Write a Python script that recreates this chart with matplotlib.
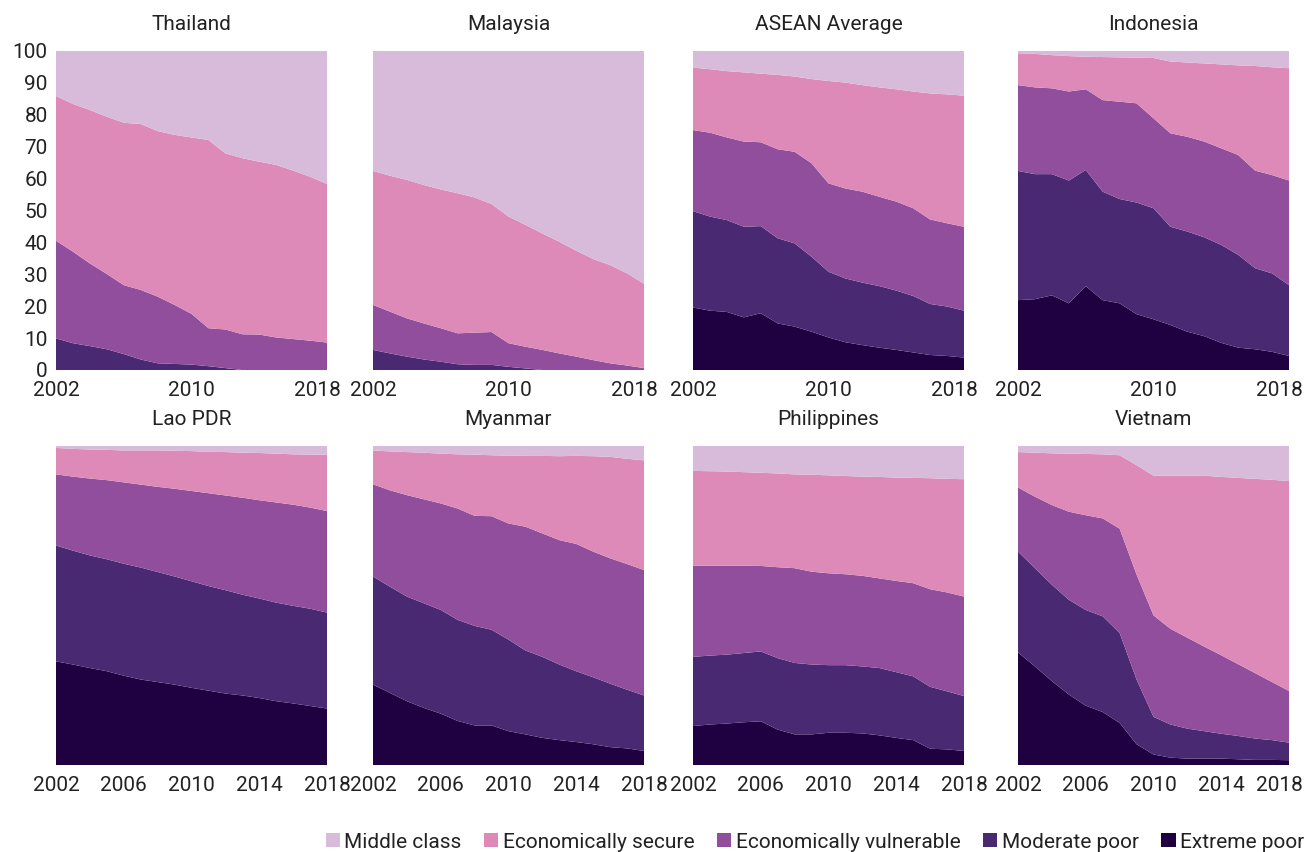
"""ASEAN economic class shares 2002-2018, small multiples of stacked areas."""
import matplotlib
matplotlib.use("Agg")
import matplotlib.pyplot as plt
from matplotlib.patches import Patch
from matplotlib.transforms import ScaledTranslation

plt.rcParams["font.family"] = ["Roboto", "DejaVu Sans"]

years = list(range(2002, 2019))
classes = ["Extreme poor", "Moderate poor", "Economically vulnerable",
           "Economically secure", "Middle class"]
colors = ["#1f0040", "#4a2973", "#914e9c", "#dd8ab8", "#d8bbdb"]

# shares (%) per class, bottom to top
thailand = {
    "Extreme poor": [0] * 17,
    "Moderate poor": [9.9, 8.4, 7.5, 6.5, 5.0, 3.3, 2.1, 1.9, 1.7, 1.2, 0.6, 0, 0, 0, 0, 0, 0],
    "Economically vulnerable": [30.6, 28.7, 25.9, 23.6, 21.6, 21.8, 20.9, 18.5, 15.9, 11.9, 12.1, 11.2, 11.1, 10.2, 9.7, 9.2, 8.6],
    "Economically secure": [45.4, 46.3, 48.1, 49.3, 50.9, 52.0, 51.9, 53.3, 55.3, 59.0, 55.2, 55.2, 54.2, 54.1, 52.8, 51.4, 49.7],
    "Middle class": [14.1, 16.6, 18.5, 20.6, 22.5, 22.9, 25.1, 26.3, 27.1, 27.9, 32.1, 33.6, 34.7, 35.7, 37.5, 39.4, 41.7],
}
malaysia = {
    "Extreme poor": [0] * 17,
    "Moderate poor": [6.3, 5.2, 4.2, 3.3, 2.6, 1.8, 1.6, 1.6, 1.0, 0.5, 0, 0, 0, 0, 0, 0, 0],
    "Economically vulnerable": [14.1, 13.1, 12.0, 11.3, 10.5, 9.7, 10.1, 10.3, 7.4, 6.8, 6.3, 5.2, 4.2, 3.1, 2.1, 1.4, 0.6],
    "Economically secure": [42.0, 42.6, 43.4, 43.4, 43.5, 43.9, 42.4, 40.1, 39.7, 38.2, 36.5, 35.0, 33.2, 31.7, 30.8, 28.9, 26.4],
    "Middle class": [37.6, 39.1, 40.4, 42.0, 43.4, 44.6, 45.9, 48.0, 51.9, 54.5, 57.2, 59.8, 62.6, 65.2, 67.1, 69.7, 73.0],
}
asean = {
    "Extreme poor": [19.6, 18.6, 18.2, 16.5, 17.8, 14.6, 13.6, 12.0, 10.2, 8.7, 7.8, 7.0, 6.3, 5.5, 4.7, 4.4, 3.9],
    "Moderate poor": [30.2, 29.5, 28.8, 28.4, 27.3, 26.7, 26.1, 23.5, 20.6, 20.0, 19.6, 19.3, 18.6, 17.7, 16.0, 15.5, 14.7],
    "Economically vulnerable": [25.4, 26.3, 25.9, 26.7, 26.3, 27.9, 28.7, 29.3, 27.7, 28.2, 28.5, 28.0, 27.9, 27.5, 26.5, 26.1, 26.3],
    "Economically secure": [19.6, 19.9, 20.8, 21.7, 21.5, 23.3, 23.6, 26.4, 32.1, 33.2, 33.4, 34.3, 35.2, 36.6, 39.5, 40.4, 41.1],
    "Middle class": [5.2, 5.7, 6.3, 6.7, 7.1, 7.5, 8.0, 8.8, 9.4, 9.9, 10.7, 11.4, 12.0, 12.7, 13.3, 13.6, 14.0],
}
indonesia = {
    "Extreme poor": [21.9, 22.2, 23.4, 20.9, 26.3, 21.9, 20.9, 17.5, 15.9, 14.1, 12.0, 10.6, 8.5, 7.0, 6.5, 5.7, 4.4],
    "Moderate poor": [40.5, 39.2, 38.0, 38.5, 36.4, 34.0, 32.7, 35.0, 34.8, 30.8, 31.4, 31.0, 30.7, 29.1, 25.4, 24.6, 22.2],
    "Economically vulnerable": [26.9, 27.2, 26.9, 27.9, 25.3, 28.7, 30.5, 31.1, 28.2, 29.3, 29.7, 30.0, 30.3, 31.3, 30.6, 30.8, 32.8],
    "Economically secure": [10.0, 10.5, 10.4, 11.1, 10.2, 13.5, 13.9, 14.3, 18.9, 22.5, 23.3, 24.5, 26.3, 28.1, 32.8, 33.8, 35.2],
    "Middle class": [0.7, 0.9, 1.3, 1.6, 1.8, 1.9, 2.0, 2.1, 2.2, 3.3, 3.6, 3.9, 4.2, 4.5, 4.7, 5.1, 5.4],
}
lao = {
    "Extreme poor": [32.5, 31.5, 30.4, 29.4, 28.0, 26.8, 26.0, 25.2, 24.2, 23.3, 22.4, 21.8, 21.0, 20.0, 19.3, 18.5, 17.7],
    "Moderate poor": [36.3, 35.7, 35.3, 35.1, 35.1, 35.1, 34.5, 33.9, 33.4, 32.8, 32.4, 31.6, 31.2, 30.9, 30.6, 30.5, 30.1],
    "Economically vulnerable": [22.3, 23.2, 24.1, 24.8, 25.5, 26.0, 26.7, 27.5, 28.3, 29.1, 29.7, 30.4, 30.8, 31.4, 31.7, 31.7, 31.8],
    "Economically secure": [8.3, 8.7, 9.1, 9.5, 10.0, 10.7, 11.4, 11.9, 12.5, 13.0, 13.6, 14.1, 14.8, 15.3, 15.8, 16.6, 17.7],
    "Middle class": [0.6, 0.9, 1.1, 1.2, 1.4, 1.4, 1.4, 1.5, 1.6, 1.8, 1.9, 2.1, 2.2, 2.4, 2.6, 2.7, 2.7],
}
myanmar = {
    "Extreme poor": [25.2, 22.6, 20.0, 17.9, 16.1, 13.8, 12.4, 12.4, 10.6, 9.6, 8.5, 7.8, 7.2, 6.5, 5.6, 5.2, 4.4],
    "Moderate poor": [33.9, 33.3, 32.8, 32.8, 32.5, 31.7, 31.2, 30.0, 28.7, 26.3, 25.4, 23.7, 22.2, 21.0, 19.9, 18.4, 17.4],
    "Economically vulnerable": [28.9, 30.2, 31.8, 32.6, 33.4, 34.9, 34.5, 35.6, 36.4, 38.8, 38.7, 39.0, 39.9, 39.4, 39.3, 39.4, 39.3],
    "Economically secure": [10.6, 12.2, 13.5, 14.6, 15.6, 17.0, 19.2, 19.1, 21.3, 22.2, 24.3, 26.3, 27.6, 29.9, 31.8, 33.0, 34.4],
    "Middle class": [1.4, 1.7, 1.9, 2.1, 2.4, 2.6, 2.7, 2.9, 3.0, 3.1, 3.2, 3.2, 3.1, 3.2, 3.4, 4.0, 4.5],
}
philippines = {
    "Extreme poor": [12.2, 12.7, 13.0, 13.4, 13.7, 11.1, 9.6, 9.6, 10.1, 10.1, 9.9, 9.3, 8.5, 7.8, 5.1, 4.9, 4.4],
    "Moderate poor": [21.7, 21.6, 21.6, 21.7, 21.9, 22.4, 22.4, 21.9, 21.2, 21.2, 21.0, 21.1, 20.6, 20.0, 19.4, 18.2, 17.2],
    "Economically vulnerable": [28.6, 28.2, 27.9, 27.4, 26.8, 28.5, 29.7, 29.1, 28.8, 28.5, 28.4, 28.1, 28.6, 29.2, 30.6, 31.0, 31.2],
    "Economically secure": [29.7, 29.6, 29.5, 29.3, 29.2, 29.4, 29.4, 30.4, 30.7, 30.8, 31.1, 31.8, 32.4, 33.0, 34.8, 35.6, 36.8],
    "Middle class": [7.8, 7.9, 8.0, 8.2, 8.4, 8.6, 8.9, 9.0, 9.2, 9.4, 9.6, 9.7, 9.9, 10.0, 10.1, 10.3, 10.4],
}
vietnam = {
    "Extreme poor": [35.3, 30.9, 26.3, 22.1, 18.6, 16.6, 13.2, 6.5, 3.3, 2.3, 2.0, 2.0, 2.0, 1.8, 1.6, 1.6, 1.5],
    "Moderate poor": [31.6, 30.8, 30.2, 29.7, 30.0, 30.0, 28.2, 20.3, 11.8, 10.4, 9.4, 8.6, 7.8, 7.3, 6.7, 6.2, 5.5],
    "Economically vulnerable": [20.1, 22.4, 25.0, 27.6, 29.7, 30.7, 32.7, 32.9, 31.8, 30.0, 28.5, 26.5, 24.6, 22.5, 20.5, 18.2, 16.2],
    "Economically secure": [11.1, 13.8, 16.2, 18.2, 19.2, 20.1, 23.0, 34.3, 43.8, 48.0, 50.8, 53.6, 55.9, 58.4, 60.9, 63.4, 65.8],
    "Middle class": [1.9, 2.1, 2.3, 2.4, 2.5, 2.6, 2.9, 6.0, 9.3, 9.3, 9.3, 9.3, 9.7, 10.0, 10.3, 10.6, 11.0],
}

panels = [("Thailand", thailand), ("Malaysia", malaysia),
          ("ASEAN Average", asean), ("Indonesia", indonesia),
          ("Lao PDR", lao), ("Myanmar", myanmar),
          ("Philippines", philippines), ("Vietnam", vietnam)]

W, H = 1307, 852
fig = plt.figure(figsize=(W / 100, H / 100), dpi=100)

col_x = [56, 373, 693, 1018]
col_w = 271
row_top = [51, 446]
row_h = 319
FS = 15
TXT = "#222222"

for i, (name, data) in enumerate(panels):
    r, c = divmod(i, 4)
    ax = fig.add_axes([col_x[c] / W, 1 - (row_top[r] + row_h) / H,
                       col_w / W, row_h / H])
    ax.stackplot(years, *[data[k] for k in classes], colors=colors,
                 linewidth=0)
    ax.set_xlim(2002, 2018)
    ax.set_ylim(0, 100)
    for s in ax.spines.values():
        s.set_visible(False)
    if r == 0:
        ax.set_xticks([2002, 2010, 2018])
    else:
        ax.set_xticks([2002, 2006, 2010, 2014, 2018])
    if i == 0:
        ax.set_yticks(range(0, 101, 10))
    else:
        ax.set_yticks([])
    ax.tick_params(length=0, labelsize=FS, colors=TXT)
    ax.tick_params(axis="x", pad=8)
    ax.tick_params(axis="y", pad=6)
    ax.set_title(name, fontsize=FS, color=TXT, pad=15)
    if r == 0 or c == 3:
        # last year label sits a little inside the panel edge
        lab = ax.get_xticklabels()[-1]
        lab.set_transform(lab.get_transform()
                          + ScaledTranslation(-0.10, 0, fig.dpi_scale_trans))

handles = [Patch(facecolor=colors[k], edgecolor="none", label=classes[k])
           for k in range(4, -1, -1)]
leg = fig.legend(handles=handles, loc="center right",
                 bbox_to_anchor=(1304 / W, 1 - 842 / H), ncol=5,
                 frameon=False, fontsize=FS, handlelength=0.68,
                 handleheight=0.65, handletextpad=0.2, columnspacing=1.1,
                 borderpad=0, borderaxespad=0)
for t in leg.get_texts():
    t.set_color(TXT)

fig.savefig("out.png", dpi=100)
